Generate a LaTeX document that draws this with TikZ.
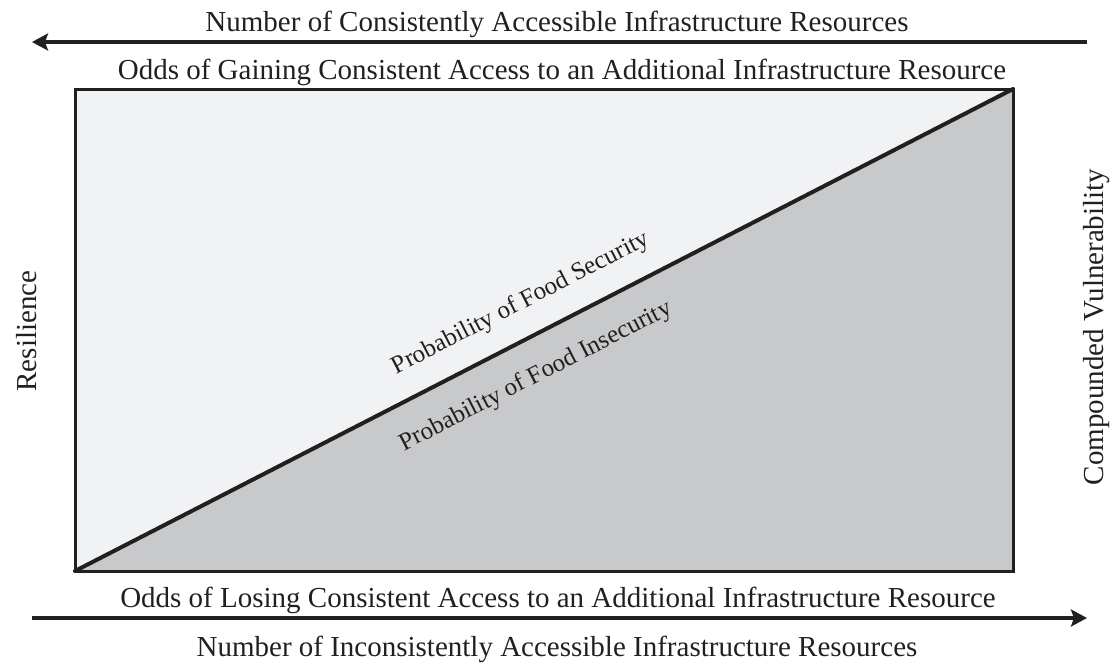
\documentclass[tikz,border=0pt]{standalone}
\usepackage{fontspec}
\setmainfont{Liberation Serif}
\usetikzlibrary{arrows.meta}
\definecolor{lightfill}{HTML}{F1F2F4}
\definecolor{darkfill}{HTML}{C8C9CB}
\definecolor{ink}{HTML}{231F20}
\tikzset{
  lbl/.style={font=\fontsize{29}{34}\selectfont, text=ink, inner sep=0pt},
  dlbl/.style={font=\fontsize{25}{30}\selectfont, text=ink, inner sep=0pt},
  axisarrow/.style={draw=ink, line width=4pt, -{Stealth[length=16pt,width=17pt,inset=3pt]}},
  frame/.style={draw=ink, line width=3pt},
}
\begin{document}
\begin{tikzpicture}[x=1pt,y=-1pt]
\useasboundingbox (0,0) rectangle (1120,664);
% box corners
\coordinate (bl) at (75,571);
\coordinate (tr) at (1013,89);
\coordinate (tl) at (75,89);
\coordinate (br) at (1013,571);
\fill[lightfill] (bl) -- (tl) -- (tr) -- cycle;
\fill[darkfill] (bl) -- (br) -- (tr) -- cycle;
\draw[frame] (bl) rectangle (tr);
\draw[draw=ink, line width=4pt, line cap=round] (bl) -- (tr)
  node[pos=0.492, sloped, anchor=base, yshift=28pt, dlbl] (sec) {Probability of Food Security}
  node[pos=0.473, sloped, anchor=base, yshift=-44pt, dlbl] (insec) {Probability of Food Insecurity};
% top arrow
\coordinate (ta1) at (1087,42);
\coordinate (ta2) at (32,42);
\draw[axisarrow] (ta1) -- (ta2);
\coordinate (ba1) at (32,618);
\coordinate (ba2) at (1087,618);
\draw[axisarrow] (ba1) -- (ba2);
\node[lbl, anchor=base] (t1) at (557,31) {Number of Consistently Accessible Infrastructure Resources};
\node[lbl, anchor=base] (t2) at (562,79) {Odds of Gaining Consistent Access to an Additional Infrastructure Resource};
\node[lbl, anchor=base] (b1) at (558,607) {Odds of Losing Consistent Access to an Additional Infrastructure Resource};
\node[lbl, anchor=base] (b2) at (557,656) {Number of Inconsistently Accessible Infrastructure Resources};
\node[lbl, rotate=90, anchor=base] (res) at (36,331) {Resilience};
\node[lbl, rotate=90, anchor=base] (cv) at (1103,327) {Compounded Vulnerability};
\end{tikzpicture}
\end{document}
